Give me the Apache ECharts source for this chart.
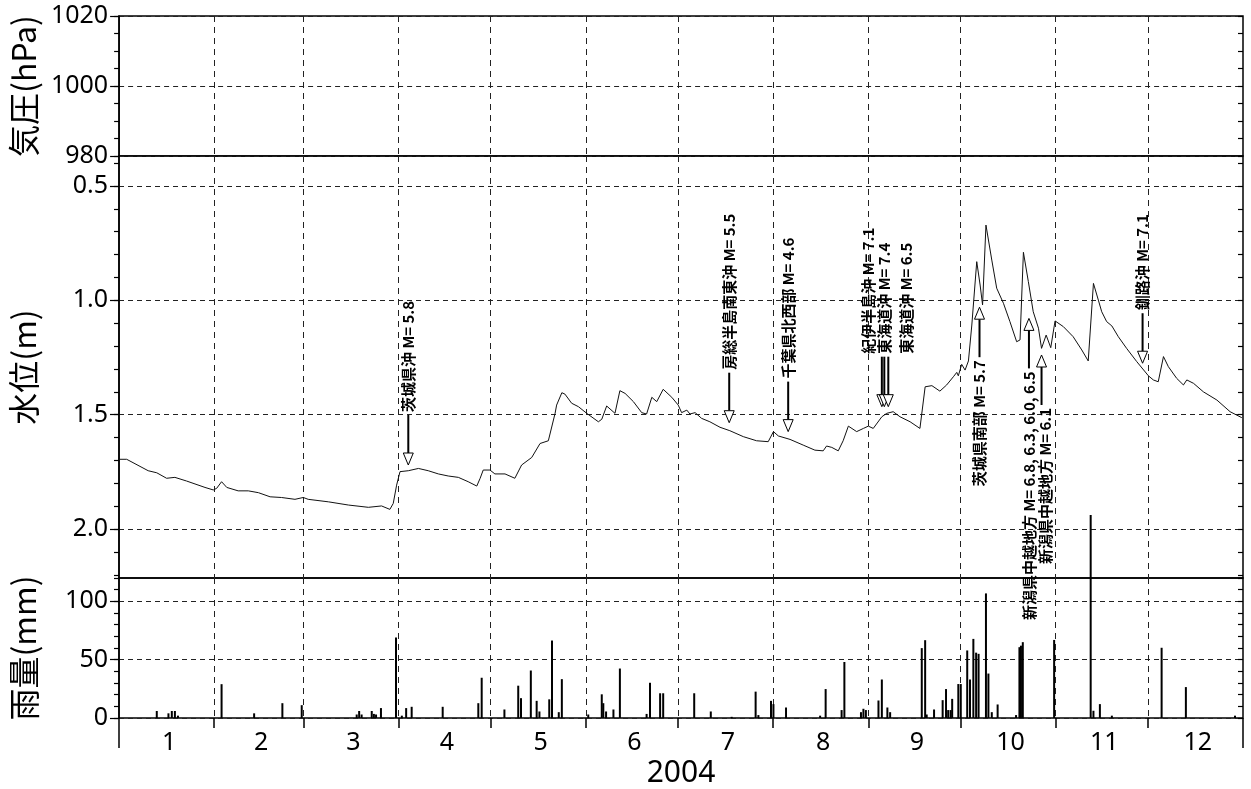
<!DOCTYPE html>
<html>
<head>
<meta charset="utf-8">
<script src="https://cdn.jsdelivr.net/npm/echarts@6/dist/echarts.min.js"></script>
<style>
  html, body { margin: 0; padding: 0; background: #fff; }
  #chart { width: 1251px; height: 789px; }
</style>
</head>
<body>
<div id="chart"></div>
<script>
// ---- Axis tick labels -------------------------------------------------
const monthLabels = ['1', '2', '3', '4', '5', '6', '7', '8', '9', '10', '11', '12'];
const monthStarts = [0, 31, 60, 91, 121, 152, 182, 213, 244, 274, 305, 335, 366]; // day of 2004
const yearLabel = '2004';
const pressureLabels = [980, 1000, 1020];
const levelLabels = [0.5, 1.0, 1.5, 2.0];
const rainLabels = [0, 50, 100];

// ---- Groundwater level (m below reference, axis inverted) -------------
const levelDays = [0, 2.5, 9.5, 12.3, 15.5, 18.2, 22.0, 28.0, 30.7, 31.8, 33.4, 35.1, 38.8, 42.1, 45.4, 49.2, 52.9, 57.3, 60.0, 61.6,
  68.2, 74.7, 81.2, 85.5, 88.2, 89.3, 90.4, 91.5, 94.2, 97.5, 100.7, 104.0, 107.2, 110.5, 113.7, 116.5, 117.6, 118.6, 120.8, 122.4,
  125.7, 128.9, 131.1, 134.4, 137.1, 139.8, 142.0, 142.5, 143.0, 144.2, 145.2, 147.4, 149.6, 152.3, 156.1, 157.2, 158.8, 161.5, 163.1, 164.8,
  167.5, 170.2, 171.8, 173.5, 175.1, 177.2, 180.0, 182.1, 183.2, 184.9, 185.9, 187.6, 189.7, 192.4, 195.7, 198.9, 203.3, 207.6, 211.4, 213.1,
  214.7, 218.5, 222.8, 226.6, 229.3, 230.4, 232.1, 234.2, 235.8, 237.5, 240.2, 242.4, 244.0, 245.6, 248.4, 250.0, 252.1, 254.3, 257.6, 260.8,
  261.4, 262.5, 264.7, 267.3, 269.5, 271.7, 272.8, 273.3, 274.4, 275.5, 276.6, 277.7, 279.3, 280.4, 281.2, 282.3, 284.2, 285.8, 288.0, 290.1,
  292.3, 293.4, 294.5, 296.1, 297.7, 299.4, 300.4, 301.9, 303.4, 304.8, 307.5, 310.7, 313.5, 315.6, 317.3, 318.9, 320.0, 321.6, 323.3, 325.4,
  328.1, 331.4, 335.2, 336.8, 338.4, 340.1, 341.7, 344.4, 346.6, 347.7, 349.9, 353.1, 357.5, 361.8, 365.6];
const levelValues = [1.695, 1.695, 1.745, 1.754, 1.778, 1.774, 1.790, 1.818, 1.829, 1.822, 1.793, 1.818, 1.833, 1.833, 1.841, 1.859, 1.862, 1.870, 1.862, 1.870,
  1.881, 1.895, 1.905, 1.899, 1.914, 1.888, 1.808, 1.749, 1.745, 1.735, 1.745, 1.759, 1.768, 1.774, 1.793, 1.812, 1.778, 1.742, 1.742, 1.759,
  1.759, 1.778, 1.720, 1.687, 1.626, 1.614, 1.494, 1.458, 1.462, 1.404, 1.410, 1.450, 1.465, 1.494, 1.531, 1.520, 1.462, 1.494, 1.395, 1.407,
  1.443, 1.491, 1.497, 1.424, 1.443, 1.389, 1.424, 1.458, 1.491, 1.480, 1.497, 1.491, 1.516, 1.531, 1.555, 1.570, 1.596, 1.614, 1.618, 1.574,
  1.593, 1.608, 1.633, 1.655, 1.658, 1.637, 1.643, 1.658, 1.614, 1.550, 1.574, 1.560, 1.550, 1.560, 1.509, 1.494, 1.487, 1.509, 1.531, 1.560,
  1.567, 1.378, 1.373, 1.397, 1.370, 1.334, 1.315, 1.330, 1.280, 1.305, 1.265, 1.108, 0.831, 0.933, 1.020, 0.671, 0.824, 0.947, 1.013, 1.093,
  1.181, 1.173, 0.790, 0.918, 1.050, 1.122, 1.210, 1.152, 1.207, 1.090, 1.115, 1.159, 1.217, 1.265, 0.926, 0.999, 1.050, 1.093, 1.112, 1.159,
  1.210, 1.268, 1.330, 1.348, 1.356, 1.246, 1.290, 1.341, 1.370, 1.348, 1.363, 1.400, 1.436, 1.487, 1.513];

// ---- Daily rainfall (mm) ----------------------------------------------
const rainDays = [12.3, 16.1, 17.2, 18.2, 19.2, 33.4, 44.0, 53.2, 59.5, 77.4, 78.2, 79.0, 82.3, 83.0, 83.7, 85.3, 90.2, 92.1, 93.5, 95.3,
  105.4, 117.0, 118.1, 125.5, 130.0, 130.9, 134.1, 136.0, 136.9, 140.1, 141.0, 143.2, 144.2, 152.8, 157.2, 157.7, 158.6, 161.0, 163.1, 171.8,
  172.9, 176.2, 177.2, 187.3, 192.7, 199.5, 207.3, 208.2, 212.3, 213.1, 217.2, 228.3, 230.1, 235.3, 236.2, 241.6, 242.4, 243.2, 247.3, 248.4,
  250.2, 251.1, 261.4, 262.5, 263.0, 265.4, 268.2, 269.3, 270.0, 270.8, 271.3, 273.3, 274.1, 276.2, 277.1, 278.2, 279.1, 279.9, 282.3, 283.1,
  284.2, 286.1, 292.1, 293.2, 293.7, 294.3, 304.5, 316.4, 317.3, 319.4, 323.3, 339.5, 347.4, 363.4];
const rainValues = [6, 4, 6, 6, 2, 29, 4, 12.7, 11, 3, 6, 3, 6, 3.5, 3, 8.5, 69, 2, 8.5, 9.6,
  9.6, 12.7, 34.5, 7.3, 27.7, 17, 40.7, 14.7, 5.6, 16, 66.4, 5, 33.3, 3, 20.3, 12.7, 5.6, 7.3, 42.4, 3.5,
  30.2, 21.2, 21.2, 21.2, 5.6, 1, 22.6, 2.5, 14.7, 11.9, 9, 2, 24.8, 6.8, 48, 5, 7.9, 6.8, 15, 33,
  9, 5, 59.9, 66.7, 3, 7.3, 15.3, 24.8, 6.8, 6.8, 16.4, 29.1, 29.1, 57.9, 33, 67.8, 56, 55, 106.8, 38.1,
  5, 11.6, 2.5, 60.7, 62, 65, 66.9, 174, 6.2, 11.9, 2, 60.2, 26.5, 2];

// ---- Earthquakes marked on the water level ------------------------------
const quakeDays = [94.2, 198.7, 217.9, 248.4, 249.2, 250.5, 280.2, 296.3, 300.4, 333.3];
const quakeLevels = [1.720, 1.535, 1.574, 1.465, 1.465, 1.465, 1.030, 1.079, 1.239, 1.275];
const quakeLabels = ['茨城県沖 M= 5.8', '房総半島南東沖 M= 5.5', '千葉県北西部 M= 4.6', '紀伊半島沖 M= 7.1',
  '東海道沖 M= 7.4', '東海道沖 M= 6.5', '茨城県南部 M= 5.7', '新潟県中越地方 M= 6.8, 6.3, 6.0, 6.5',
  '新潟県中越地方 M= 6.1', '釧路沖 M= 7.1'];
const quakeFromBelow = [false, false, false, false, false, false, true, true, true, false];
const quakeTextShift = [0, 0, 0, -14, 0, 18, 0, 0, 4, 0]; // px, keeps the clustered captions apart

// ---- Layout ------------------------------------------------------------
const LEFT = 119, RIGHT = 8;
const panels = [{ top: 16, height: 140 }, { top: 156, height: 422 }, { top: 578, height: 142 }];
const INK = '#000';
const NUM_FONT = '"Noto Sans", "Open Sans", sans-serif';
const JP_FONT = '"Noto Sans CJK JP", "Noto Sans", sans-serif';
const MONTH_LABEL_NUDGE = 0.8; // days; month numbers sit a little after mid-month

function steps(a, b, s) {
  const out = [];
  const n = Math.round((b - a) / s);
  for (let i = 0; i <= n; i++) out.push(+(a + i * s).toFixed(4));
  return out;
}

function panelAxes(gridIndex, min, max, inverse, majors, minors, name, fmt) {
  const common = { type: 'value', gridIndex, min, max, inverse };
  return [
    Object.assign({}, common, {
      position: 'left',
      name, nameLocation: 'middle', nameRotate: 90, nameGap: 79,
      nameTextStyle: { fontFamily: JP_FONT, fontSize: 32, color: INK },
      axisLine: { show: true, lineStyle: { color: INK, width: 1.5 } },
      axisTick: { show: true, customValues: minors, length: 5, lineStyle: { color: INK, width: 1.2 } },
      axisLabel: { customValues: majors, formatter: fmt, margin: 11, fontSize: 25, fontFamily: NUM_FONT, color: INK },
      splitLine: { show: false }
    }),
    Object.assign({}, common, {
      position: 'left',
      axisLine: { show: false },
      axisTick: { show: true, customValues: majors, length: 9, lineStyle: { color: INK, width: 1.2 } },
      axisLabel: { show: false },
      splitLine: { show: true, lineStyle: { type: [5, 4], color: '#222', width: 1 } }
    }),
    Object.assign({}, common, {
      position: 'right',
      axisLine: { show: false },
      axisTick: { show: true, inside: true, customValues: minors, length: 5, lineStyle: { color: INK, width: 1.2 } },
      axisLabel: { show: false },
      splitLine: { show: false }
    })
  ];
}

const innerMonthStarts = monthStarts.slice(1, -1);
const monthMids = monthLabels.map((_, i) => (monthStarts[i] + monthStarts[i + 1]) / 2 + MONTH_LABEL_NUDGE);
const monthSplit = { show: true, lineStyle: { type: [6, 5], color: '#222', width: 1 } };

function plainX(gridIndex) {
  return {
    type: 'value', gridIndex, min: 0, max: 366,
    axisLine: { show: false },
    axisTick: { show: false, customValues: innerMonthStarts },
    axisLabel: { show: false },
    splitLine: monthSplit
  };
}

const option = {
  animation: false,
  backgroundColor: '#fff',
  grid: panels.map(p => ({
    left: LEFT, right: RIGHT, top: p.top, height: p.height,
    show: true, borderColor: INK, borderWidth: 1.5, backgroundColor: 'transparent'
  })),
  xAxis: [
    plainX(0),
    plainX(1),
    {
      type: 'value', gridIndex: 2, min: 0, max: 366, position: 'bottom',
      name: yearLabel, nameLocation: 'middle', nameGap: 40,
      nameTextStyle: { fontFamily: NUM_FONT, fontSize: 30, color: INK },
      axisLine: { show: false },
      axisTick: { show: true, customValues: innerMonthStarts, length: 10, lineStyle: { color: INK, width: 1.5 } },
      axisLabel: {
        customValues: monthMids, margin: 12, fontSize: 25, fontFamily: NUM_FONT, color: INK,
        formatter: v => monthLabels[monthMids.findIndex(m => Math.abs(m - v) < 0.01)]
      },
      splitLine: monthSplit
    },
    {
      type: 'value', gridIndex: 2, min: 0, max: 366, position: 'bottom',
      axisLine: { show: false },
      axisTick: { show: true, customValues: [monthStarts[0], monthStarts[12]], length: 30, lineStyle: { color: INK, width: 1.5 } },
      axisLabel: { show: false },
      splitLine: { show: false }
    }
  ],
  yAxis: [].concat(
    panelAxes(0, 980, 1020, false, pressureLabels, steps(980, 1020, 5), '気圧(hPa)', v => String(v)),
    panelAxes(1, 0.369, 2.214, true, levelLabels, steps(0.4, 2.2, 0.1), '水位(m)', v => v.toFixed(1)),
    panelAxes(2, 0, 120, false, rainLabels, steps(0, 120, 10), '雨量(mm)', v => String(v))
  ),
  series: [
    {
      type: 'line', xAxisIndex: 1, yAxisIndex: 3,
      data: levelDays.map((d, i) => [d, levelValues[i]]),
      symbol: 'none', lineStyle: { color: '#111', width: 1 }, z: 5
    },
    {
      type: 'bar', xAxisIndex: 2, yAxisIndex: 6,
      data: rainDays.map((d, i) => [d, rainValues[i]]),
      barWidth: 2, clip: false, itemStyle: { color: '#000' }, z: 5
    },
    {
      type: 'custom', xAxisIndex: 1, yAxisIndex: 3, clip: false, z: 6,
      data: quakeDays.map((d, i) => [d, quakeLevels[i], i]),
      renderItem(params, api) {
        const i = api.value(2);
        const p = api.coord([api.value(0), api.value(1)]);
        const x = p[0], tip = p[1];
        const dir = quakeFromBelow[i] ? 1 : -1;   // side the shaft comes from
        const headLen = 12, headHalf = 5, total = 50;
        const base = tip + dir * headLen;
        const tail = tip + dir * total;
        return {
          type: 'group',
          children: [
            { type: 'line', shape: { x1: x, y1: tail, x2: x, y2: base }, style: { stroke: INK, lineWidth: 2 } },
            { type: 'polygon', shape: { points: [[x, tip], [x - headHalf, base], [x + headHalf, base]] },
              style: { fill: '#fff', stroke: INK, lineWidth: 1 } },
            { type: 'text', x: x + quakeTextShift[i], y: tail + dir * 3, rotation: Math.PI / 2,
              style: { text: quakeLabels[i], fill: INK, font: 'bold 15px ' + JP_FONT,
                align: quakeFromBelow[i] ? 'right' : 'left', verticalAlign: 'middle' } }
          ]
        };
      }
    }
  ]
};

const chart = echarts.init(document.getElementById('chart'), null, { renderer: 'canvas' });
chart.setOption(option);
</script>
</body>
</html>
